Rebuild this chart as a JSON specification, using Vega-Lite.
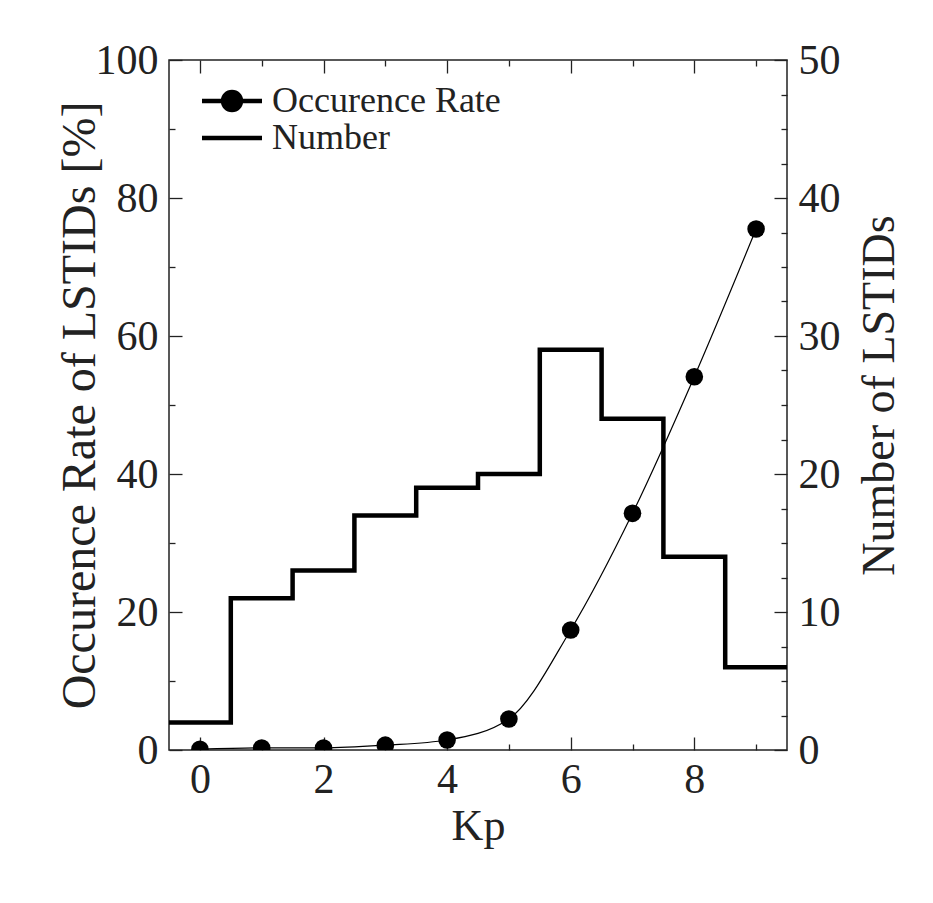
{
  "$schema": "https://vega.github.io/schema/vega-lite/v6.json",
  "width": 618,
  "height": 690,
  "autosize": {"type": "none"},
  "padding": {"left": 169, "top": 60, "right": 146, "bottom": 153},
  "background": "white",
  "datasets": {
    "rates": [
      {"Kp": 0, "rate": 0.1},
      {"Kp": 1, "rate": 0.3},
      {"Kp": 2, "rate": 0.3},
      {"Kp": 3, "rate": 0.7},
      {"Kp": 4, "rate": 1.45},
      {"Kp": 5, "rate": 4.5},
      {"Kp": 6, "rate": 17.4},
      {"Kp": 7, "rate": 34.3},
      {"Kp": 8, "rate": 54.1},
      {"Kp": 9, "rate": 75.5}
    ],
    "counts": [
      {"edge": -0.5, "number": 2},
      {"edge": 0.5, "number": 11},
      {"edge": 1.5, "number": 13},
      {"edge": 2.5, "number": 17},
      {"edge": 3.5, "number": 19},
      {"edge": 4.5, "number": 20},
      {"edge": 5.5, "number": 29},
      {"edge": 6.5, "number": 24},
      {"edge": 7.5, "number": 14},
      {"edge": 8.5, "number": 6},
      {"edge": 9.5, "number": 6}
    ]
  },
  "config": {
    "view": {"stroke": "#222", "strokeWidth": 1.5},
    "font": "Liberation Serif",
    "axis": {
      "domain": false,
      "grid": false,
      "ticks": true,
      "labelFont": "Liberation Serif",
      "labelFontSize": 42,
      "labelColor": "#222",
      "titleFont": "Liberation Serif",
      "titleFontWeight": "normal",
      "titleColor": "#222",
      "tickColor": "#222",
      "tickWidth": 1.3,
      "labelFlush": false,
      "labelOverlap": false,
      "format": "d"
    }
  },
  "layer": [
    {
      "data": {"name": "rates"},
      "layer": [
        {
          "mark": {"type": "line", "interpolate": "monotone", "strokeWidth": 1.2, "clip": true},
          "encoding": {
            "x": {
              "field": "Kp", "type": "quantitative",
              "scale": {"domain": [-0.5, 9.5], "nice": false, "zero": false},
              "axis": {
                "orient": "bottom",
                "values": [0, 1, 2, 3, 4, 5, 6, 7, 8, 9],
                "format": "d",
                "labelExpr": "datum.value % 2 === 0 ? datum.label : ''",
                "tickSize": {"condition": {"test": "datum.value % 2 === 0", "value": -13}, "value": -6},
                "labelPadding": 22,
                "title": "Kp",
                "titleFontSize": 44,
                "titlePadding": -3
              }
            },
            "y": {
              "field": "rate", "type": "quantitative",
              "scale": {"domain": [0, 100], "nice": false},
              "axis": {
                "orient": "left",
                "values": [0, 5, 10, 15, 20, 25, 30, 35, 40, 45, 50, 55, 60, 65, 70, 75, 80, 85, 90, 95, 100],
                "format": "d",
                "labelExpr": "datum.value % 20 === 0 ? datum.label : ''",
                "tickSize": {"condition": {"test": "datum.value % 20 === 0", "value": -13}, "value": -6},
                "labelPadding": 24,
                "title": "Occurence Rate of LSTIDs [%]",
                "titleFontSize": 48,
                "titlePadding": -9
              }
            },
            "stroke": {
              "datum": "Occurence Rate",
              "scale": {"domain": ["Occurence Rate", "Number"], "range": ["black", "black"]},
              "legend": {
                "orient": "none",
                "legendX": 45,
                "legendY": 23,
                "title": null,
                "padding": 0,
                "labelFont": "Liberation Serif",
                "labelFontSize": 36,
                "labelColor": "#222",
                "labelLimit": 0,
                "labelOffset": 22,
                "rowPadding": 1,
                "symbolSize": 900,
                "symbolStrokeWidth": 4.5,
                "encode": {
                  "symbols": {
                    "update": {
                      "shape": {"signal": "datum.value === 'Number' ? 'M-2,0H2' : 'M-2,0H2M0.6,0A0.6,0.6 0 1,1 -0.6,0A0.6,0.6 0 1,1 0.6,0'"},
                      "fill": {"value": "black"},
                      "stroke": {"value": "black"},
                      "strokeWidth": {"value": 4.5}
                    }
                  }
                }
              }
            }
          }
        },
        {
          "mark": {"type": "point", "filled": true, "size": 310, "color": "black", "opacity": 1, "clip": true},
          "encoding": {
            "x": {"field": "Kp", "type": "quantitative"},
            "y": {"field": "rate", "type": "quantitative"}
          }
        }
      ]
    },
    {
      "data": {"name": "counts"},
      "mark": {"type": "line", "interpolate": "step-after", "strokeWidth": 4.5, "clip": true},
      "encoding": {
        "x": {
          "field": "edge", "type": "quantitative",
          "scale": {"domain": [-0.5, 9.5], "nice": false, "zero": false},
          "axis": {
            "orient": "top",
            "values": [0, 1, 2, 3, 4, 5, 6, 7, 8, 9],
            "labels": false,
            "tickSize": {"condition": {"test": "datum.value % 2 === 0", "value": -13}, "value": -6},
            "title": null
          }
        },
        "y": {
          "field": "number", "type": "quantitative",
          "scale": {"domain": [0, 50], "nice": false},
          "axis": {
            "orient": "right",
            "values": [0, 2.5, 5, 7.5, 10, 12.5, 15, 17.5, 20, 22.5, 25, 27.5, 30, 32.5, 35, 37.5, 40, 42.5, 45, 47.5, 50],
            "format": "d",
            "labelExpr": "datum.value % 10 === 0 ? datum.label : ''",
            "tickSize": {"condition": {"test": "datum.value % 10 === 0", "value": -13}, "value": -6},
            "labelPadding": 24,
            "title": "Number of LSTIDs",
            "titleFontSize": 46,
            "titleAngle": 270,
            "titleBaseline": "top",
            "titlePadding": 17,
            "titleY": 335
          }
        },
        "stroke": {"datum": "Number"}
      }
    }
  ],
  "resolve": {"scale": {"x": "independent", "y": "independent"}}
}
